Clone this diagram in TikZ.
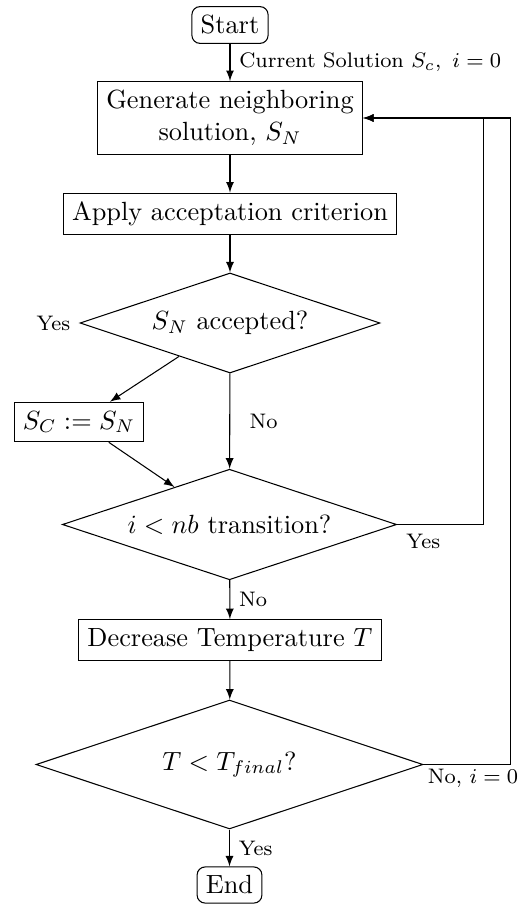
\documentclass[tikz,border=0pt]{standalone}
\usetikzlibrary{shapes.geometric}
\begin{document}
\begin{tikzpicture}[x=0.38pt, y=-0.38pt, >=latex]
    \tikzstyle{term}=[rectangle, rounded corners=3pt, draw=black]
    \tikzstyle{proc}=[rectangle, draw=black, align=center]
    \tikzstyle{test}=[diamond, aspect=3, draw=black, inner sep=0pt]
    \tikzstyle{lbl}=[font=\footnotesize]
    \tikzstyle{edge}=[->, black]

    \useasboundingbox (0,0) rectangle (520,905);

    \node[term] (start) at (230,25) {Start};
    \node[proc] (gen) at (230,118) {Generate neighboring\\ solution, $S_N$};
    \node[proc] (apply) at (230,214) {Apply acceptation criterion};
    \node[test, minimum width=114pt, minimum height=38pt] (acc) at (230,323) {$S_N$ accepted?};
    \node[proc] (sc) at (79,422) {$S_C := S_N$};
    \node[test, minimum width=127pt, minimum height=42pt] (trans) at (229.5,524.5) {$i < nb$ transition?};
    \node[proc] (dec) at (230,640) {Decrease Temperature $T$};
    \node[test, minimum width=147pt, minimum height=49pt] (fin) at (229.5,764.5) {$T < T_{final}$?};
    \node[term] (stop) at (229.5,885) {End};

    \draw[edge] (start) -- node[lbl, right] (cur) {Current Solution $S_c,\ i = 0$} (gen);
    \draw[edge] (gen) -- (apply);
    \draw[edge] (apply) -- (acc);
    \draw[edge] (acc) -- (sc);
    \draw[edge] (acc) -- node[lbl, right=4pt] (no1) {No} (trans);
    \draw[edge] (sc) -- (trans);
    \draw[edge] (trans) -- node[lbl, right] (no2) {No} (dec);
    \draw[edge] (dec) -- (fin);
    \draw[edge] (fin) -- node[lbl, right] (yes3) {Yes} (stop);

    % loops back to the generation step
    \draw[edge] (trans.east) -- ++(86,0) |- (gen.east);
    \draw[edge] (fin.east) -- ++(87,0) |- (gen.east);

    \node[lbl, left] (yes1) at (acc.west) {Yes};
    \node[lbl, below right] (yes2) at (trans.east) {Yes};
    \node[lbl, below right, inner sep=1.5pt] (no3) at (fin.east) {No, $i = 0$};
\end{tikzpicture}
\end{document}
